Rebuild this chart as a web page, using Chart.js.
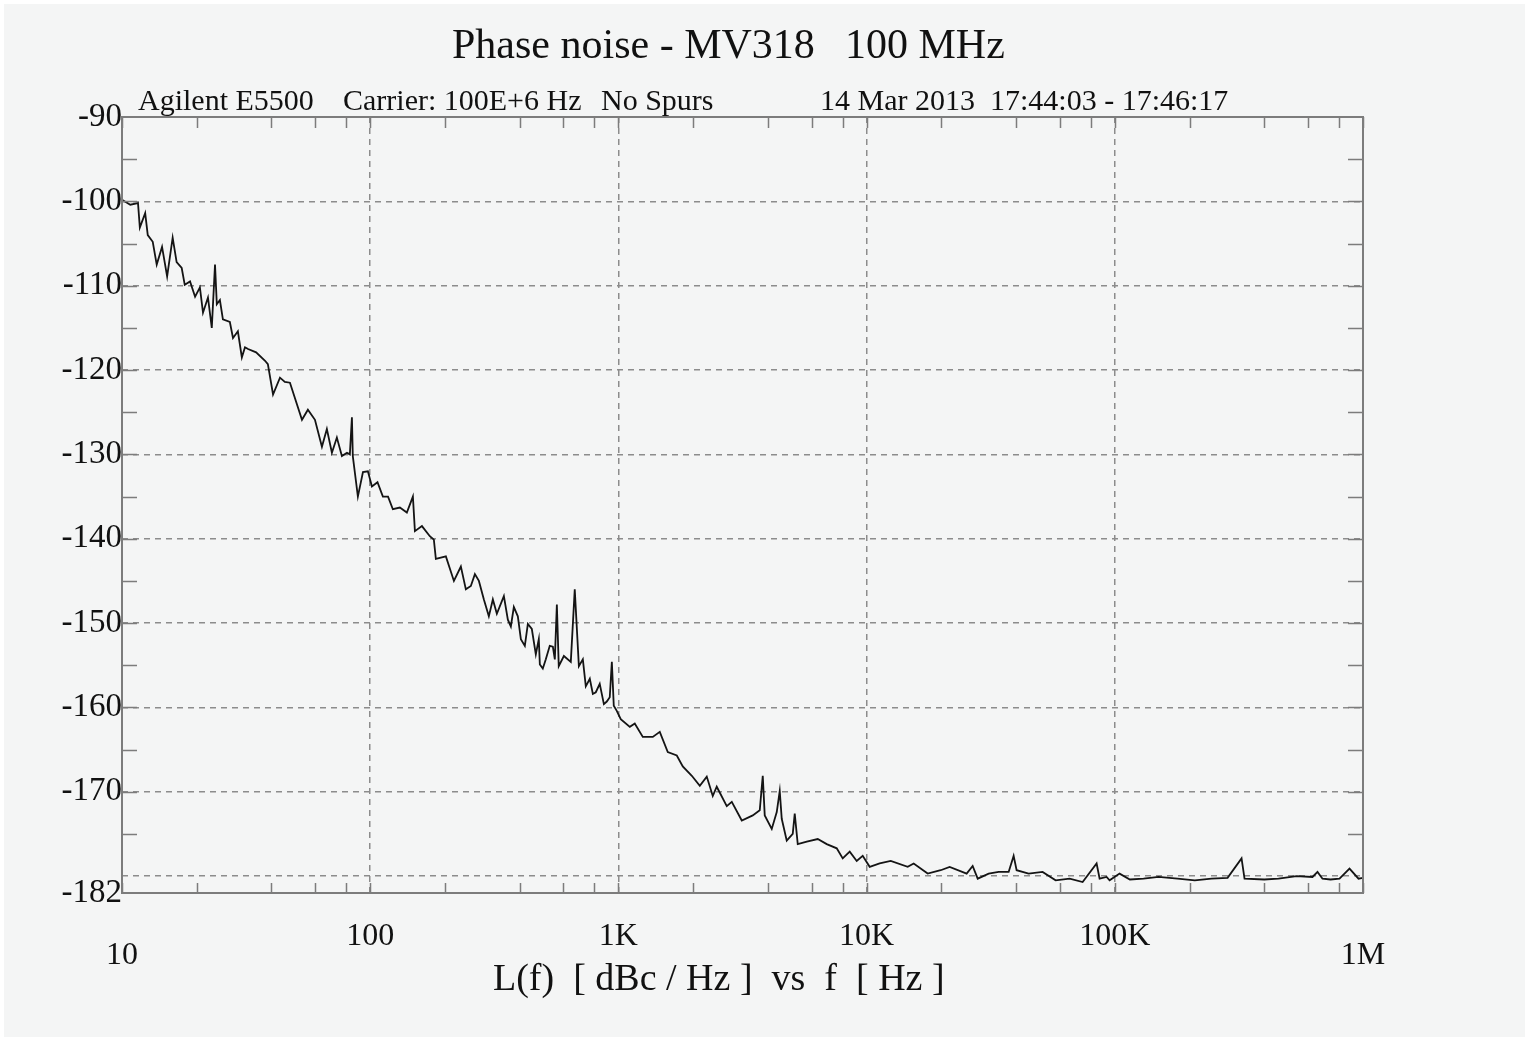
<!DOCTYPE html>
<html>
<head>
<meta charset="utf-8">
<title>Phase noise - MV318 100 MHz</title>
<script src="https://cdn.jsdelivr.net/npm/chart.js@4/dist/chart.umd.min.js"></script>
<style>
  html, body { margin: 0; padding: 0; background: #ffffff; }
  canvas { display: block; }
</style>
</head>
<body>
<canvas id="pn" width="1529" height="1041"></canvas>
<script>
// ---------- Data ----------

// offset frequency, Hz
const freqHz = [
  10, 10.8, 11.6, 11.8, 12.4, 12.7, 13.3, 13.8, 14.5, 15.2,
  16.0, 16.6, 17.4, 17.9, 18.8, 19.7, 20.6, 21.2, 22.2, 23.0,
  23.7, 24.1, 24.8, 25.5, 27.2, 28.0, 29.3, 30.4, 31.3, 32.2,
  34.7, 37.7, 38.7, 40.6, 43.3, 45.3, 47.5, 53.1, 56.1, 59.9,
  63.9, 66.9, 70.1, 73.4, 76.9, 80.6, 82.8, 84.4, 85.1, 89.2,
  93.5, 97.9, 101.6, 107, 112.5, 118, 123.4, 131.7, 140.5, 148.6,
  151.4, 161.6, 173.9, 180.5, 183.9, 201.8, 217.4, 231.9, 242.9, 254.4,
  264.1, 274.1, 287.1, 300.6, 312, 323.8, 345.6, 358.6, 368.7, 379.1,
  393.4, 404.6, 419.8, 431.7, 447.9, 464.8, 477.9, 482.5, 496, 510,
  529, 544.4, 554.5, 565, 575, 603, 643, 667, 693, 719,
  739, 767, 789, 811, 841, 874, 898, 923, 941, 958,
  985, 1022, 1112, 1164, 1254, 1376, 1468, 1581, 1719, 1817,
  1976, 2128, 2270, 2400, 2490, 2733, 2863, 3141, 3478, 3711,
  3816, 3887, 4148, 4345, 4467, 4551, 4767, 5040, 5134, 5279,
  5741, 6356, 6908, 7580, 8013, 8551, 9124, 9645, 10290, 11290,
  12510, 14640, 15480, 17620, 19880, 21610, 25300, 26750, 28030, 31030,
  34040, 37350, 39120, 40220, 44960, 51180, 57750, 65770, 74200, 84470,
  86860, 92680, 95300, 104550, 115000, 130600, 150000, 179000, 210000, 245300,
  284700, 324100, 333200, 400000, 456600, 540000, 625900, 655700, 686800, 740000,
  804200, 882300, 959200, 1000000
];

// L(f), dBc/Hz
const noiseDbc = [
  -99.8, -100.4, -100.2, -103.1, -101.4, -104.0, -104.8, -107.5, -105.4, -108.9,
  -104.3, -107.2, -107.9, -109.9, -109.5, -111.3, -110.2, -113.2, -111.4, -115.0,
  -107.5, -112.2, -111.7, -114.0, -114.3, -116.2, -115.4, -118.5, -117.3, -117.5,
  -117.9, -118.9, -119.3, -122.9, -120.9, -121.4, -121.5, -125.9, -124.7, -125.9,
  -129.1, -127.0, -129.8, -128.0, -130.2, -129.8, -130.0, -125.6, -130.2, -135.0,
  -132.1, -132.0, -133.8, -133.3, -135.0, -135.0, -136.5, -136.3, -136.9, -135.0,
  -139.1, -138.5, -139.7, -140.1, -142.4, -142.1, -145.0, -143.3, -146.0, -145.6,
  -144.2, -145.0, -147.2, -149.2, -147.2, -148.9, -146.8, -149.6, -150.4, -148.1,
  -149.2, -151.9, -152.7, -150.1, -150.7, -153.7, -151.9, -154.9, -155.4, -154.3,
  -152.7, -152.8, -154.3, -147.8, -155.1, -153.9, -154.6, -146.0, -155.1, -154.3,
  -157.5, -156.6, -158.4, -158.2, -157.2, -159.6, -159.3, -158.8, -154.6, -159.8,
  -160.4, -161.4, -162.3, -161.9, -163.5, -163.5, -162.9, -165.3, -165.7, -167.0,
  -168.1, -169.3, -168.2, -170.5, -169.4, -171.7, -171.2, -173.4, -172.8, -172.2,
  -168.1, -172.8, -174.4, -172.4, -169.9, -173.2, -175.8, -175.0, -172.6, -176.2,
  -175.9, -175.6, -176.2, -176.7, -177.9, -177.1, -178.2, -177.6, -178.9, -178.5,
  -178.2, -178.9, -178.5, -179.7, -179.3, -178.9, -179.7, -178.8, -180.3, -179.7,
  -179.5, -179.5, -177.6, -179.3, -179.7, -179.5, -180.5, -180.3, -180.7, -178.5,
  -180.3, -180.1, -180.5, -179.7, -180.4, -180.3, -180.1, -180.3, -180.5, -180.3,
  -180.2, -177.9, -180.3, -180.4, -180.3, -180.0, -180.1, -179.5, -180.3, -180.4,
  -180.3, -179.1, -180.3, -180.2
];

// axis ticks
const xTickValues = [10, 100, 1000, 10000, 100000, 1000000];
const xTickLabels = ["10", "100", "1K", "10K", "100K", "1M"];
const xMinorTicks = [
  20, 40, 60, 80, 200, 400, 600, 800, 2000, 4000, 6000, 8000,
  20000, 40000, 60000, 80000, 200000, 400000, 600000, 800000
];
const yTickValues = [-182, -180, -170, -160, -150, -140, -130, -120, -110, -100, -90];
const yTickLabels = ["-182", "", "-170", "-160", "-150", "-140", "-130", "-120", "-110", "-100", "-90"];
const yMinorTicks = [
  -175, -170, -165, -160, -155, -150, -145, -140, -135, -130,
  -125, -120, -115, -110, -105, -100, -95
];

const titleText = ["Phase noise - MV318", "100 MHz"];
const headerLeft = ["Agilent E5500", "Carrier: 100E+6 Hz", "No Spurs"];
const headerRight = "14 Mar 2013  17:44:03 - 17:46:17";
const xAxisTitle = "L(f)  [ dBc / Hz ]  vs  f  [ Hz ]";

// ---------- Styling ----------

const SERIF = '"Liberation Serif", "Times New Roman", serif';
const INK = "#111111";
const PAPER = "#f4f5f5";
const GRID = "#8c8c8c";
const FRAME = "#7c7c7c";

// Background, frame, inward minor ticks and the free-standing texts
const plotDecor = {
  id: "plotDecor",
  beforeDraw(chart) {
    const ctx = chart.ctx;
    ctx.save();
    ctx.fillStyle = "#ffffff";
    ctx.fillRect(0, 0, chart.width, chart.height);
    ctx.fillStyle = PAPER;
    ctx.fillRect(4, 4, chart.width - 8, chart.height - 8);
    ctx.restore();
  },
  afterDraw(chart) {
    const ctx = chart.ctx;
    const a = chart.chartArea;
    const xs = chart.scales.x;
    const ys = chart.scales.y;
    ctx.save();

    ctx.strokeStyle = FRAME;
    ctx.lineWidth = 1.5;
    ctx.beginPath();
    xMinorTicks.concat(xTickValues).forEach((v) => {
      const px = Math.round(xs.getPixelForValue(v)) + 0.5;
      ctx.moveTo(px, a.bottom);
      ctx.lineTo(px, a.bottom - 10);
      ctx.moveTo(px, a.top);
      ctx.lineTo(px, a.top + 11);
    });
    yMinorTicks.forEach((v) => {
      const py = Math.round(ys.getPixelForValue(v)) + 0.5;
      ctx.moveTo(a.left, py);
      ctx.lineTo(a.left + 15, py);
      ctx.moveTo(a.right, py);
      ctx.lineTo(a.right - 15, py);
    });
    ctx.stroke();

    ctx.lineWidth = 2;
    ctx.strokeRect(a.left, a.top, a.right - a.left, a.bottom - a.top);

    ctx.fillStyle = INK;
    ctx.textAlign = "left";
    ctx.textBaseline = "alphabetic";
    ctx.font = `42px ${SERIF}`;
    ctx.fillText(titleText[0], 452, 58);
    ctx.fillText(titleText[1], 845, 58);

    ctx.font = `30px ${SERIF}`;
    ctx.fillText(headerLeft[0], 138, 110);
    ctx.fillText(headerLeft[1], 343, 110);
    ctx.fillText(headerLeft[2], 601, 110);
    ctx.fillText(headerRight, 820, 110);

    ctx.font = `38px ${SERIF}`;
    ctx.fillText(xAxisTitle, 493, 990);
    ctx.restore();
  },
};

function edgeColor(edges) {
  return (c) => (c.tick && edges.includes(c.tick.value) ? "rgba(0,0,0,0)" : GRID);
}

new Chart(document.getElementById("pn"), {
  type: "line",
  data: {
    datasets: [
      {
        data: freqHz.map((f, i) => ({ x: f, y: noiseDbc[i] })),
        borderColor: "#141414",
        borderWidth: 1.8,
        pointRadius: 0,
        tension: 0,
        fill: false,
      },
    ],
  },
  options: {
    responsive: false,
    animation: false,
    events: [],
    layout: { padding: { left: 0, right: 166, top: 117, bottom: 0 } },
    plugins: {
      legend: { display: false },
      tooltip: { enabled: false },
      title: { display: false },
    },
    scales: {
      x: {
        type: "logarithmic",
        min: 10,
        max: 1000000,
        afterBuildTicks: (scale) => {
          scale.ticks = xTickValues.map((v) => ({ value: v }));
        },
        afterFit: (scale) => {
          scale.height = 148;
        },
        grid: { color: edgeColor([10, 1000000]), lineWidth: 1.5, drawTicks: false },
        border: { display: false, dash: [6, 5] },
        ticks: {
          autoSkip: false,
          maxRotation: 0,
          padding: 34,
          color: INK,
          font: { family: SERIF, size: 32, lineHeight: "19px" },
          callback: (value) => {
            const i = xTickValues.indexOf(value);
            if (i === 0 || i === xTickValues.length - 1) return ["", xTickLabels[i]];
            return xTickLabels[i];
          },
        },
      },
      y: {
        type: "linear",
        min: -182,
        max: -90,
        afterBuildTicks: (scale) => {
          scale.ticks = yTickValues.map((v) => ({ value: v }));
        },
        afterFit: (scale) => {
          scale.width = 122;
        },
        grid: { color: edgeColor([-182, -90]), lineWidth: 1.5, drawTicks: false },
        border: { display: false, dash: [6, 5] },
        ticks: {
          autoSkip: false,
          padding: 0,
          color: INK,
          font: { family: SERIF, size: 33 },
          callback: (value) => yTickLabels[yTickValues.indexOf(value)],
        },
      },
    },
  },
  plugins: [plotDecor],
});
</script>
</body>
</html>
